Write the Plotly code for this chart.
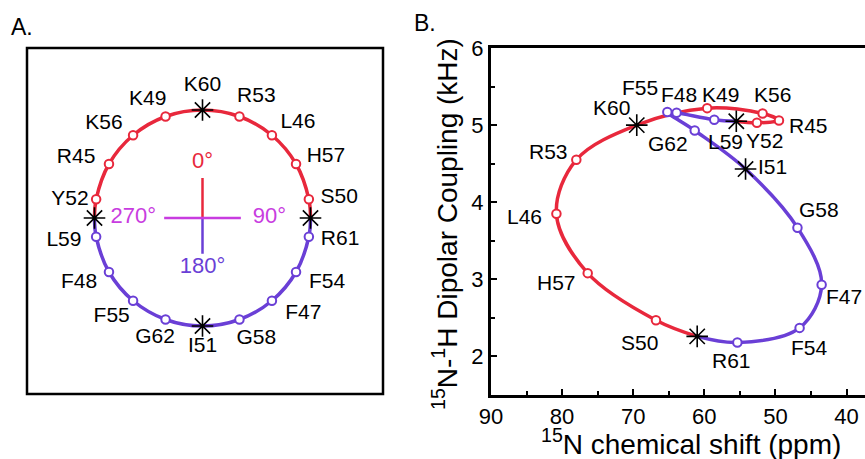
import plotly.graph_objects as go

RED = "#e8283c"
PURPLE = "#6a3fd6"
MAGENTA = "#c83ce0"
FONT = "Liberation Sans, Arial, Helvetica, sans-serif"
W, H = 865, 459

# ---------------- Panel A: helical wheel ----------------
wheel_residues = ["K60", "R53", "L46", "H57", "S50", "R61", "F54", "F47", "G58",
                  "I51", "G62", "F55", "F48", "L59", "Y52", "R45", "K56", "K49"]
wheel_angles = [0, 20, 40, 60, 80, 100, 120, 140, 160,
                180, 200, 220, 240, 260, 280, 300, 320, 340]
wheel_star_angles = [0, 90, 180, 270]
red_arc_angles = [270, 280, 300, 320, 340, 360, 20, 40, 60, 80, 90]
purple_arc_angles = [90, 100, 120, 140, 160, 180, 200, 220, 240, 260, 270]
cross_labels = ["0°", "90°", "180°", "270°"]
cross_angles = [0, 90, 180, 270]

# ---------------- Panel B: PISA wheel ----------------
red_path = ["S270", "Y52", "R45", "K56", "K49", "K60", "R53", "L46", "H57", "S50", "S90"]
red_cs = [55.5, 52.6, 49.5, 51.8, 59.6, 69.5, 78.0, 80.8, 76.4, 66.8, 61.0]
red_dc = [5.05, 5.03, 5.06, 5.15, 5.22, 5.00, 4.55, 3.85, 3.08, 2.47, 2.26]
purple_path = ["S90", "R61", "F54", "F47", "G58", "I51", "G62", "F55", "F48", "L59", "S270"]
purple_cs = [61.0, 55.35, 46.6, 43.5, 46.9, 54.2, 61.35, 65.2, 63.9, 58.6, 55.5]
purple_dc = [2.26, 2.18, 2.37, 2.93, 3.67, 4.43, 4.93, 5.17, 5.16, 5.07, 5.05]
star_points = ["S270", "K60", "S90", "I51"]
x_ticks = [90, 80, 70, 60, 50, 40]
y_ticks = [2, 3, 4, 5, 6]

# ---------------- label placement (positions only) ----------------
# panel A: label radius (in wheel radii) and angular nudge (deg) per residue, wheel order
label_radius = [1.22, 1.23, 1.25, 1.275, 1.28, 1.29, 1.30, 1.29, 1.225,
                1.19, 1.195, 1.24, 1.29, 1.30, 1.24, 1.295, 1.265, 1.205]
label_nudge = [0, 3.9, 5, 3.7, 1.7, -1, -2.5, -6.4, -4,
               0, 1.6, 2.7, 2.4, 0.7, -2, -4.7, -6.1, -4.9]
# panel B: label offsets (px, right / down)
label_offsets = {
    "F55": (-27, -24), "F48": (2, -18), "K49": (13, -14), "K56": (10, -19),
    "R45": (30, 5), "Y52": (8, 18), "L59": (11, 22), "G62": (-27, 13),
    "K60": (-25, -18), "R53": (-28, -8), "L46": (-32, 3), "I51": (27, -3),
    "G58": (22, -18), "H57": (-31, 9), "S50": (-16, 22), "R61": (-6, 18),
    "F54": (10, 20), "F47": (22, 12),
}
cross_text_r = {"0°": 0.51, "90°": 0.62, "180°": 0.46, "270°": 0.64}
cross_colors = {"0°": RED, "90°": MAGENTA, "180°": PURPLE, "270°": MAGENTA}

LBL = 21
fig = go.Figure()

# ---- Panel A traces ----
fig.add_trace(go.Scatterpolar(r=[1] * len(red_arc_angles), theta=red_arc_angles,
                              mode="lines", line=dict(color=RED, width=3.5, shape="spline"),
                              subplot="polar", showlegend=False, hoverinfo="skip"))
fig.add_trace(go.Scatterpolar(r=[1] * len(purple_arc_angles), theta=purple_arc_angles,
                              mode="lines", line=dict(color=PURPLE, width=3.5, shape="spline"),
                              subplot="polar", showlegend=False, hoverinfo="skip"))
# cross
fig.add_trace(go.Scatterpolar(r=[0, 0.37], theta=[0, 0], mode="lines",
                              line=dict(color=RED, width=2.5), subplot="polar", showlegend=False))
fig.add_trace(go.Scatterpolar(r=[0, 0.33], theta=[180, 180], mode="lines",
                              line=dict(color=PURPLE, width=2.5), subplot="polar", showlegend=False))
fig.add_trace(go.Scatterpolar(r=[0.355, 0, 0.355], theta=[270, 0, 90], mode="lines",
                              line=dict(color=MAGENTA, width=2.5), subplot="polar", showlegend=False))
fig.add_trace(go.Scatterpolar(r=[cross_text_r[t] for t in cross_labels], theta=cross_angles,
                              mode="text", text=cross_labels,
                              textfont=dict(family=FONT, size=22, color=[cross_colors[t] for t in cross_labels]),
                              subplot="polar", showlegend=False))
# circle markers
circ_theta = [a for a in wheel_angles if a not in wheel_star_angles]
circ_col = [RED if (a >= 270 or a <= 90) else PURPLE for a in circ_theta]
fig.add_trace(go.Scatterpolar(r=[1] * len(circ_theta), theta=circ_theta, mode="markers",
                              marker=dict(symbol="circle", size=8.5, color="white",
                                          line=dict(color=circ_col, width=2)),
                              subplot="polar", showlegend=False))
fig.add_trace(go.Scatterpolar(r=[1] * len(wheel_star_angles), theta=wheel_star_angles, mode="markers",
                              marker=dict(symbol="asterisk-open", size=18, color="black",
                                          line=dict(color="black", width=1.6)),
                              subplot="polar", showlegend=False))
fig.add_trace(go.Scatterpolar(r=label_radius,
                              theta=[a + n for a, n in zip(wheel_angles, label_nudge)], mode="text",
                              text=wheel_residues, textposition="middle center",
                              textfont=dict(family=FONT, size=LBL, color="black"),
                              subplot="polar", showlegend=False))

# ---- Panel B traces ----
fig.add_trace(go.Scatter(x=red_cs, y=red_dc, mode="lines",
                         line=dict(color=RED, width=3.5, shape="spline"), showlegend=False))
fig.add_trace(go.Scatter(x=purple_cs, y=purple_dc, mode="lines",
                         line=dict(color=PURPLE, width=3.5, shape="spline"), showlegend=False))

for names, xs, ys, col in [(red_path, red_cs, red_dc, RED), (purple_path, purple_cs, purple_dc, PURPLE)]:
    cx = [x for n, x in zip(names, xs) if n not in star_points]
    cy = [y for n, y in zip(names, ys) if n not in star_points]
    fig.add_trace(go.Scatter(x=cx, y=cy, mode="markers",
                             marker=dict(symbol="circle", size=8.5, color="white",
                                         line=dict(color=col, width=2)),
                             showlegend=False))

all_pts = {}
for names, xs, ys in [(red_path, red_cs, red_dc), (purple_path, purple_cs, purple_dc)]:
    for n, x, y in zip(names, xs, ys):
        all_pts[n] = (x, y)
fig.add_trace(go.Scatter(x=[all_pts[n][0] for n in star_points], y=[all_pts[n][1] for n in star_points],
                         mode="markers",
                         marker=dict(symbol="asterisk-open", size=18, color="black",
                                     line=dict(color="black", width=1.6)),
                         showlegend=False))

annotations = []
for n, (dx, dy) in label_offsets.items():
    x, y = all_pts[n]
    annotations.append(dict(x=x, y=y, xref="x", yref="y", text=n, showarrow=False,
                            xshift=dx, yshift=-dy, font=dict(family=FONT, size=LBL, color="black")))

annotations += [
    dict(x=445 / W, y=1 - 224 / H, xref="paper", yref="paper", textangle=-90,
         text="<sup>15</sup>N-<sup>1</sup>H Dipolar Coupling (kHz)", showarrow=False,
         font=dict(family=FONT, size=28, color="black"), xanchor="center", yanchor="middle"),
    dict(x=691 / W, y=1 - 442 / H, xref="paper", yref="paper",
         text="<sup>15</sup>N chemical shift (ppm)", showarrow=False,
         font=dict(family=FONT, size=28, color="black"), xanchor="center", yanchor="middle"),
    dict(x=22 / W, y=1 - 27 / H, xref="paper", yref="paper", text="A.", showarrow=False,
         font=dict(family=FONT, size=23, color="black"), xanchor="center", yanchor="middle"),
    dict(x=425 / W, y=1 - 23 / H, xref="paper", yref="paper", text="B.", showarrow=False,
         font=dict(family=FONT, size=23, color="black"), xanchor="center", yanchor="middle"),
]

R_PX = 108
CX, CY = 202.5, 218
span = 1.4
fig.update_layout(
    template="none",
    width=W, height=H,
    margin=dict(l=0, r=0, t=0, b=0, pad=0, autoexpand=False),
    paper_bgcolor="white", plot_bgcolor="white",
    font=dict(family=FONT, color="black"),
    polar=dict(
        domain=dict(x=[(CX - R_PX * span) / W, (CX + R_PX * span) / W],
                    y=[1 - (CY + R_PX * span) / H, 1 - (CY - R_PX * span) / H]),
        bgcolor="rgba(0,0,0,0)",
        radialaxis=dict(visible=False, range=[0, span], showgrid=False),
        angularaxis=dict(visible=False, direction="clockwise", rotation=90, showgrid=False),
    ),
    xaxis=dict(domain=[491 / W, 1], range=[90, 37.4], tickvals=x_ticks, ticks="inside",
               ticklen=6, tickwidth=2, tickcolor="black", automargin=False,
               minor=dict(dtick=5, tick0=40, ticks="inside", ticklen=4, tickwidth=1.5, tickcolor="black",
                          showgrid=False),
               showline=True, linewidth=3, linecolor="black", mirror=True,
               showgrid=False, zeroline=False, tickfont=dict(family=FONT, size=22, color="black")),
    yaxis=dict(domain=[1 - 395 / H, 1 - 48 / H], range=[1.5, 6], tickvals=y_ticks, ticks="inside",
               ticklen=6, tickwidth=2, tickcolor="black", automargin=False,
               minor=dict(dtick=0.5, tick0=2, ticks="inside", ticklen=4, tickwidth=1.5, tickcolor="black",
                          showgrid=False),
               showline=True, linewidth=3, linecolor="black", mirror=False,
               showgrid=False, zeroline=False, tickfont=dict(family=FONT, size=22, color="black")),
    annotations=annotations,
    shapes=[dict(type="rect", xref="paper", yref="paper", x0=27 / W, x1=383 / W,
                 y0=1 - 394 / H, y1=1 - 48 / H, line=dict(color="black", width=2.5))],
)

fig.write_html("out.html", config={"displayModeBar": False},
               post_script="document.body.style.margin='0';document.body.style.padding='0';")
